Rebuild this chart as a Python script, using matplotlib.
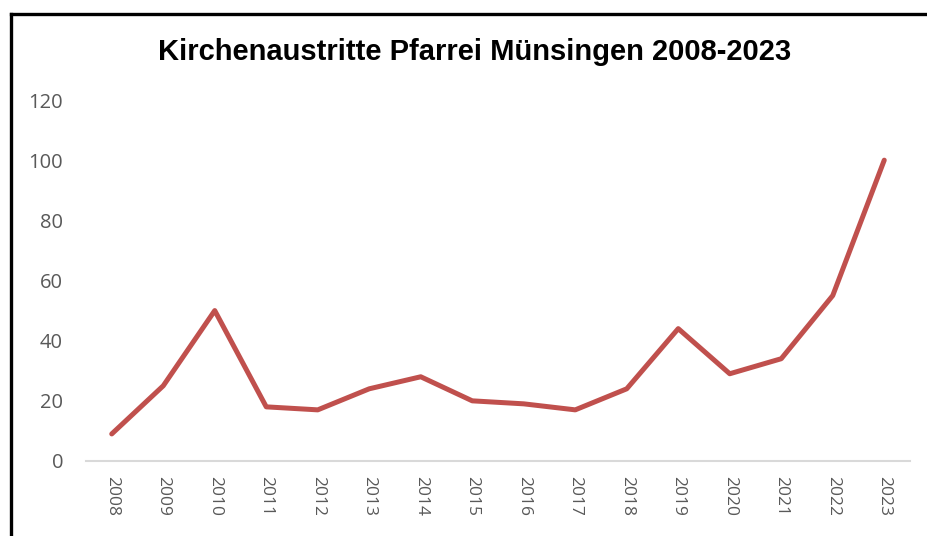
import matplotlib.pyplot as plt
from matplotlib.lines import Line2D

YEARS = [str(y) for y in range(2008, 2024)]
AUSTRITTE = [9, 25, 50, 18, 17, 24, 28, 20, 19, 17, 24, 44, 29, 34, 55, 100]

LINE_COLOR = '#C0504D'
TEXT_COLOR = '#595959'

plt.rcParams['font.family'] = ['Open Sans', 'DejaVu Sans']

fig = plt.figure(figsize=(9.28, 5.36), dpi=100)
ax = fig.add_axes([86 / 928, 1 - 461 / 536, 824 / 928, 361 / 536])

x = list(range(len(YEARS)))
ax.plot(x, AUSTRITTE, color=LINE_COLOR, lw=3.6, solid_capstyle='round', solid_joinstyle='round')

ax.set_xlim(-0.5, len(YEARS) - 0.5)
ax.set_ylim(0, 120)
ax.set_yticks(range(0, 121, 20))
ax.set_xticks(x)
ax.set_xticklabels(YEARS, rotation=270, fontsize=12.5, color=TEXT_COLOR)
ax.tick_params(axis='y', length=0, pad=16.5, labelsize=14.5, labelcolor=TEXT_COLOR)
ax.tick_params(axis='x', length=0, pad=11)

for s in ['top', 'right', 'left']:
    ax.spines[s].set_visible(False)
ax.spines['bottom'].set_color('#D9D9D9')
ax.spines['bottom'].set_linewidth(1.5)

fig.text(475 / 928, 1 - 52 / 536, 'Kirchenaustritte Pfarrei Münsingen 2008-2023',
         ha='center', va='center', fontsize=21, fontweight='bold', color='black',
         family=['Liberation Sans', 'DejaVu Sans'])

# chart frame (only left and top edges visible in the crop)
fig.add_artist(Line2D([11 / 928, 11 / 928], [0, 1 - 14 / 536], color='black', lw=2.4,
                      transform=fig.transFigure, solid_capstyle='projecting'))
fig.add_artist(Line2D([11 / 928, 1], [1 - 14 / 536, 1 - 14 / 536], color='black', lw=2.4,
                      transform=fig.transFigure, solid_capstyle='projecting'))

fig.savefig('out.png', dpi=100)
